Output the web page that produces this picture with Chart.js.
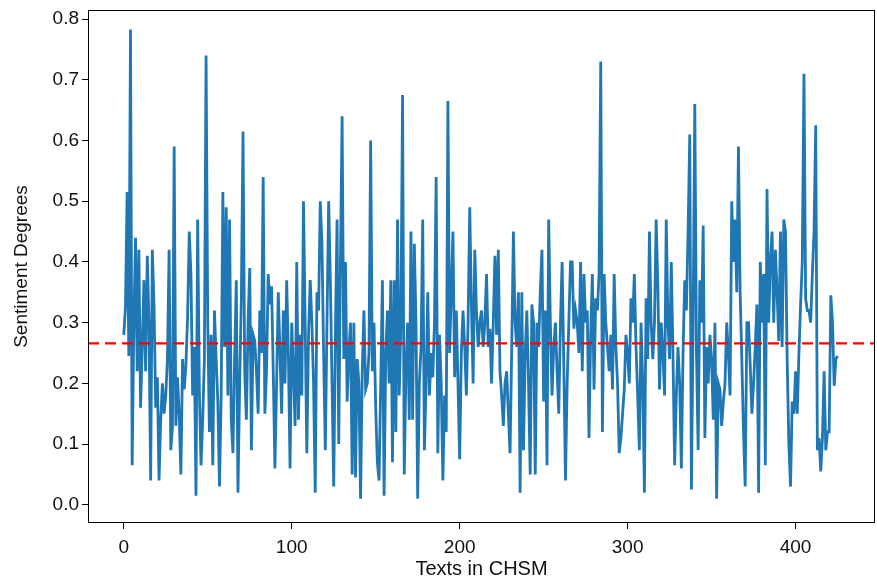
<!DOCTYPE html>
<html>
<head>
<meta charset="utf-8">
<script src="https://cdn.jsdelivr.net/npm/chart.js@4/dist/chart.umd.min.js"></script>
<style>
  html, body { margin: 0; padding: 0; background: #fff; }
  #wrap { width: 877px; height: 581px; }
</style>
</head>
<body>
<div id="wrap"><canvas id="sentiment-chart" width="877" height="581"></canvas></div>
<script>
// sentiment degree of each text
var sentiment = [
    0.28, 0.325, 0.515, 0.245, 0.783, 0.065, 0.30, 0.44, 0.22, 0.42,
    0.16, 0.26, 0.37, 0.22, 0.41, 0.30, 0.04, 0.42, 0.33, 0.16,
    0.21, 0.04, 0.14, 0.20, 0.15, 0.18, 0.24, 0.42, 0.09, 0.13,
    0.59, 0.13, 0.21, 0.15, 0.05, 0.24, 0.19, 0.23, 0.31, 0.45,
    0.38, 0.18, 0.26, 0.015, 0.47, 0.19, 0.065, 0.14, 0.24, 0.74,
    0.30, 0.12, 0.28, 0.065, 0.32, 0.24, 0.17, 0.03, 0.18, 0.515,
    0.26, 0.49, 0.18, 0.47, 0.14, 0.085, 0.24, 0.37, 0.02, 0.20,
    0.34, 0.615, 0.22, 0.14, 0.30, 0.39, 0.09, 0.28, 0.27, 0.22,
    0.15, 0.32, 0.25, 0.54, 0.15, 0.22, 0.38, 0.33, 0.36, 0.22,
    0.06, 0.20, 0.35, 0.25, 0.15, 0.32, 0.20, 0.37, 0.25, 0.06,
    0.30, 0.22, 0.13, 0.40, 0.14, 0.28, 0.18, 0.50, 0.30, 0.085,
    0.28, 0.37, 0.30, 0.20, 0.02, 0.35, 0.32, 0.50, 0.43, 0.25,
    0.09, 0.30, 0.50, 0.37, 0.20, 0.03, 0.28, 0.47, 0.10, 0.40,
    0.64, 0.24, 0.40, 0.17, 0.25, 0.30, 0.05, 0.30, 0.045, 0.24,
    0.20, 0.01, 0.22, 0.32, 0.19, 0.20, 0.25, 0.60, 0.22, 0.30,
    0.16, 0.07, 0.04, 0.20, 0.37, 0.015, 0.25, 0.32, 0.20, 0.37,
    0.07, 0.37, 0.12, 0.47, 0.18, 0.30, 0.675, 0.05, 0.22, 0.30,
    0.14, 0.45, 0.14, 0.43, 0.30, 0.01, 0.20, 0.26, 0.47, 0.09,
    0.20, 0.35, 0.18, 0.25, 0.21, 0.30, 0.54, 0.085, 0.28, 0.20,
    0.04, 0.18, 0.12, 0.665, 0.25, 0.35, 0.45, 0.21, 0.32, 0.20,
    0.075, 0.25, 0.32, 0.26, 0.18, 0.30, 0.49, 0.33, 0.20, 0.42,
    0.32, 0.26, 0.30, 0.32, 0.26, 0.30, 0.38, 0.26, 0.29, 0.20,
    0.30, 0.41, 0.28, 0.42, 0.22, 0.18, 0.13, 0.20, 0.22, 0.15,
    0.085, 0.26, 0.45, 0.30, 0.26, 0.35, 0.02, 0.35, 0.09, 0.25,
    0.32, 0.20, 0.05, 0.33, 0.30, 0.05, 0.30, 0.26, 0.35, 0.42,
    0.17, 0.32, 0.065, 0.47, 0.30, 0.18, 0.26, 0.30, 0.22, 0.15,
    0.30, 0.40, 0.23, 0.04, 0.20, 0.30, 0.40, 0.40, 0.29, 0.32,
    0.30, 0.25, 0.40, 0.22, 0.38, 0.30, 0.32, 0.11, 0.28, 0.38,
    0.19, 0.34, 0.32, 0.38, 0.73, 0.12, 0.38, 0.30, 0.26, 0.22,
    0.28, 0.19, 0.38, 0.26, 0.20, 0.085, 0.11, 0.15, 0.19, 0.28,
    0.25, 0.20, 0.34, 0.30, 0.38, 0.26, 0.18, 0.09, 0.30, 0.20,
    0.02, 0.34, 0.24, 0.45, 0.30, 0.24, 0.30, 0.47, 0.36, 0.19,
    0.30, 0.25, 0.18, 0.47, 0.30, 0.24, 0.40, 0.25, 0.065, 0.18,
    0.26, 0.20, 0.06, 0.25, 0.37, 0.32, 0.45, 0.61, 0.025, 0.30,
    0.66, 0.25, 0.09, 0.37, 0.30, 0.46, 0.11, 0.26, 0.20, 0.28,
    0.24, 0.14, 0.30, 0.01, 0.20, 0.19, 0.13, 0.17, 0.20, 0.30,
    0.25, 0.18, 0.50, 0.40, 0.47, 0.35, 0.59, 0.35, 0.24, 0.12,
    0.03, 0.30, 0.30, 0.23, 0.15, 0.20, 0.26, 0.33, 0.02, 0.40,
    0.30, 0.38, 0.065, 0.52, 0.30, 0.40, 0.45, 0.30, 0.42, 0.35,
    0.27, 0.45, 0.26, 0.47, 0.45, 0.24, 0.10, 0.03, 0.17, 0.15,
    0.22, 0.15, 0.25, 0.33, 0.40, 0.71, 0.34, 0.32, 0.32, 0.30,
    0.38, 0.45, 0.625, 0.09, 0.11, 0.055, 0.11, 0.22, 0.09, 0.12,
    0.12, 0.345, 0.30, 0.196, 0.24, 0.245
];
var meanLine = 0.266;   // red dashed line
var xTicks = [0, 100, 200, 300, 400];
var yTicks = [0.0, 0.1, 0.2, 0.3, 0.4, 0.5, 0.6, 0.7, 0.8];

var points = [];
sentiment.forEach(function (v, i) {
    points.push({ x: i, y: v });
});

// full box around the plot + the mean line
var framePlugin = {
    id: 'frame',
    afterDatasetsDraw: function (chart) {
        var ctx = chart.ctx;
        var a = chart.chartArea;
        var y = chart.scales.y.getPixelForValue(meanLine);
        ctx.save();
        ctx.strokeStyle = '#ff0000';
        ctx.lineWidth = 2.2;
        ctx.setLineDash([11, 6]);
        ctx.beginPath();
        ctx.moveTo(a.left, y);
        ctx.lineTo(a.right, y);
        ctx.stroke();
        ctx.setLineDash([]);
        ctx.strokeStyle = '#000';
        ctx.lineWidth = 1;
        ctx.strokeRect(a.left + 0.5, a.top + 0.5, a.right - a.left - 1, a.bottom - a.top - 1);
        ctx.restore();
    }
};

var fontFam = '"Liberation Sans", Arial, sans-serif';
var tickFont = { family: fontFam, size: 19 };

var myChart = new Chart(document.getElementById('sentiment-chart').getContext('2d'), {
    type: 'line',
    data: {
        datasets: [
        {
            label: 'Sentiment',
            data: points,
            borderColor: '#1f77b4',
            borderWidth: 2.8,
            pointRadius: 0,
            tension: 0,
            fill: false
        }
        ]
    },
    options: {
        responsive: false,
        animation: false,
        layout: { padding: { top: 10, right: 2, left: 0, bottom: 0 } },
        plugins: { legend: { display: false }, tooltip: { enabled: false } },
        scales: {
            x: {
                type: 'linear',
                min: -21.3,
                max: 447.3,
                afterBuildTicks: function (axis) {
                    axis.ticks = xTicks.map(function (v) { return { value: v }; });
                },
                afterFit: function (axis) { axis.height = 58; },
                grid: { drawOnChartArea: false, drawTicks: true, tickLength: 6, color: '#000' },
                border: { display: false },
                ticks: { color: '#111', font: tickFont, padding: 7, maxRotation: 0 },
                title: {
                    display: true,
                    text: 'Texts in CHSM',
                    color: '#111',
                    font: { family: fontFam, size: 20 },
                    padding: { top: 0, bottom: 0 }
                }
            },
            y: {
                min: -0.030,
                max: 0.815,
                afterBuildTicks: function (axis) {
                    axis.ticks = yTicks.map(function (v) { return { value: v }; });
                },
                afterFit: function (axis) {
                    axis.width = 88;
                    axis.paddingTop = 0;
                    axis.paddingBottom = 0;
                },
                grid: { drawOnChartArea: false, drawTicks: true, tickLength: 6, color: '#000' },
                border: { display: false },
                ticks: {
                    color: '#111',
                    font: tickFont,
                    padding: 3,
                    callback: function (v) { return Number(v).toFixed(1); }
                },
                title: {
                    display: true,
                    text: 'Sentiment Degrees',
                    color: '#111',
                    font: { family: fontFam, size: 19 },
                    padding: { top: 10, bottom: 4 }
                }
            }
        }
    },
    plugins: [framePlugin]
});
</script>
</body>
</html>
